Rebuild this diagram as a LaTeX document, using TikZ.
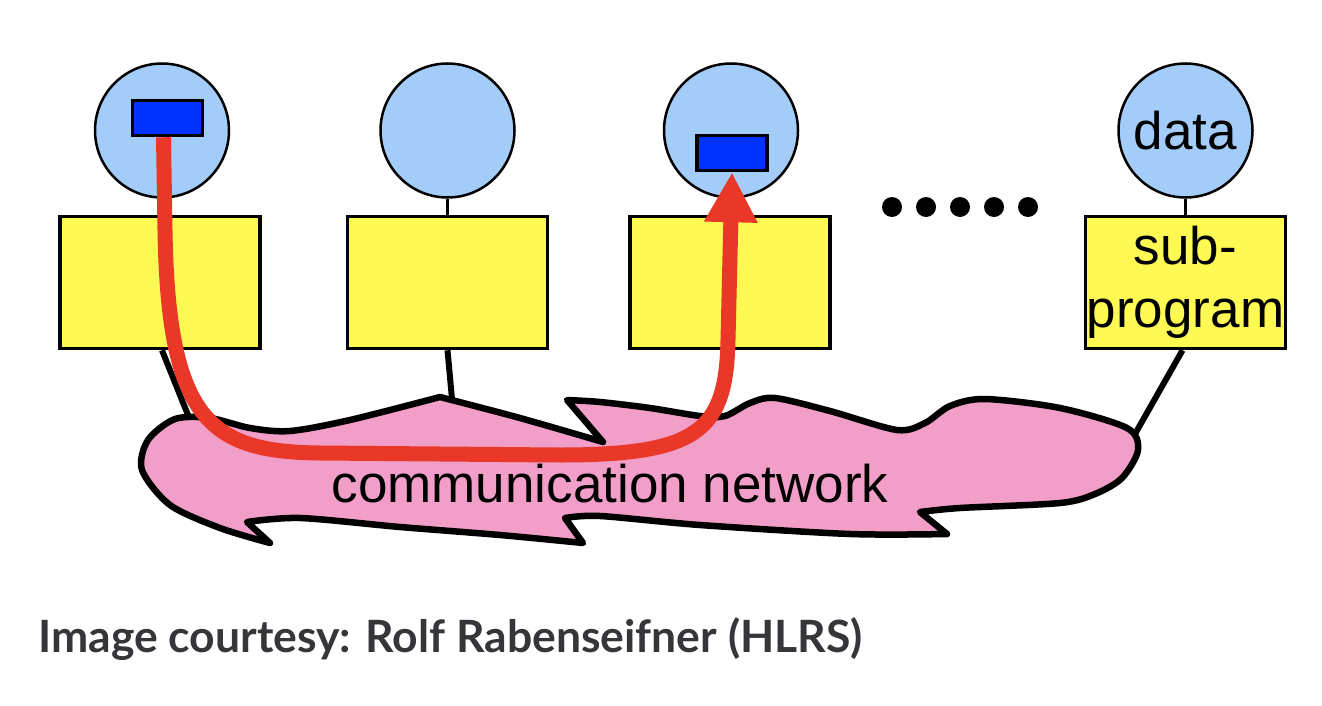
\documentclass[tikz,border=0pt]{standalone}
\usepackage{fontspec}
\setmainfont{Liberation Sans}
\newfontfamily\creditfont{Lato}
\usetikzlibrary{positioning,arrows.meta}

\definecolor{dataBlue}{RGB}{164,204,248}
\definecolor{progYellow}{RGB}{255,249,84}
\definecolor{bufBlue}{RGB}{0,51,255}
\definecolor{netPink}{RGB}{241,158,200}
\definecolor{msgRed}{RGB}{233,56,40}
\definecolor{creditGray}{RGB}{55,52,58}

\begin{document}
\begin{tikzpicture}[x=1pt, y=-1pt,
	every node/.style = {font=\fontsize{53}{63}\selectfont},
	data/.style = {
		circle, draw, line width=2.5pt, fill=dataBlue,
		minimum size=134pt, inner sep=0pt},
	subprog/.style = {
		rectangle, draw, line width=3.5pt, fill=progYellow,
		minimum width=200pt, minimum height=132pt,
		inner sep=0pt, align=center},
	buffer/.style = {
		rectangle, draw, line width=3.5pt, fill=bufBlue,
		minimum width=70pt, minimum height=35pt, inner sep=0pt},
	attach/.style = {draw, line width=2.5pt},
	link/.style = {draw, line width=6pt},
	msg/.style = {draw=msgRed, line width=15pt,
		-{Triangle[width=50pt,length=50pt]}}]

	\useasboundingbox (0,0) rectangle (1322,706);

	% processes: sub-program with its data
	\node[subprog] (prog1) at (160,282.5) {};
	\node[subprog] (prog2) at (447.5,282.5) {};
	\node[subprog] (prog3) at (730,282.5) {};
	\node[subprog] (prog4) at (1185.5,282.5) {sub-\\program};
	\node[data, above=16pt of prog1, xshift=2pt] (dat1) {};
	\node[data, above=16pt of prog2] (dat2) {};
	\node[data, above=16pt of prog3, xshift=1pt] (dat3) {};
	\node[data, above=16pt of prog4] (dat4) {data};
	\foreach \i in {1,...,4}
		\draw[attach] (dat\i.south) -- (prog\i.north);

	\node[buffer] (buf1) at (167.5,118) {};
	\node[buffer] (buf3) at (732,153) {};

	% more processes
	\foreach \k in {0,...,4}
		\fill (892+34*\k,207) circle (10pt);

	% links into the network
	\coordinate (tap1) at (190,420);
	\coordinate (tap2) at (452,399);
	\coordinate (tap4) at (1135,434);
	\draw[link] ([xshift=2pt]prog1.south) -- (tap1);
	\draw[link] (prog2.south) -- (tap2);
	\draw[link] ([xshift=-3pt]prog4.south) -- (tap4);

	% communication network
	\filldraw[fill=netPink, line width=6.5pt, line join=round]
		(270,543)
		-- plot[smooth] coordinates {(270,543) (220,528) (170,505) (142,470)
			(148,440) (175,419) (210,418) (250,428) (290,431) (350,420) (440,397)}
		-- plot[smooth] coordinates {(440,397) (520,418) (603,442)}
		-- (567,400)
		-- plot[smooth] coordinates {(567,400) (600,402) (650,408) (700,416)
			(725,416) (750,403) (775,398) (830,411) (897,430) (925,423)
			(950,406) (985,399) (1060,408) (1127,428) (1138,450) (1122,478)
			(1095,494) (1060,503) (960,508) (920,512)}
		-- (947,534)
		-- plot[smooth] coordinates {(947,534) (850,534) (700,525) (600,516) (565,518)}
		-- (583,543)
		-- plot[smooth] coordinates {(583,543) (500,535) (400,527) (300,518) (247,522)}
		-- cycle;
	\node[anchor=base] (netlabel) at (610,502) {communication network};

	% message from process 1 to process 3
	\draw[msg] ([xshift=-4pt]buf1.south)
		-- (165,230)
		.. controls (168,420) and (210,452) .. (320,453)
		-- (560,455)
		.. controls (700,455) and (726,430) .. (728,340)
		-- (buf3.south);

	\node[anchor=base west, inner sep=0pt, text=creditGray,
		font=\creditfont\bfseries\fontsize{44.5}{52}\selectfont]
		(credit) at (38,652) {Image courtesy: Rolf Rabenseifner (HLRS)};
\end{tikzpicture}
\end{document}
